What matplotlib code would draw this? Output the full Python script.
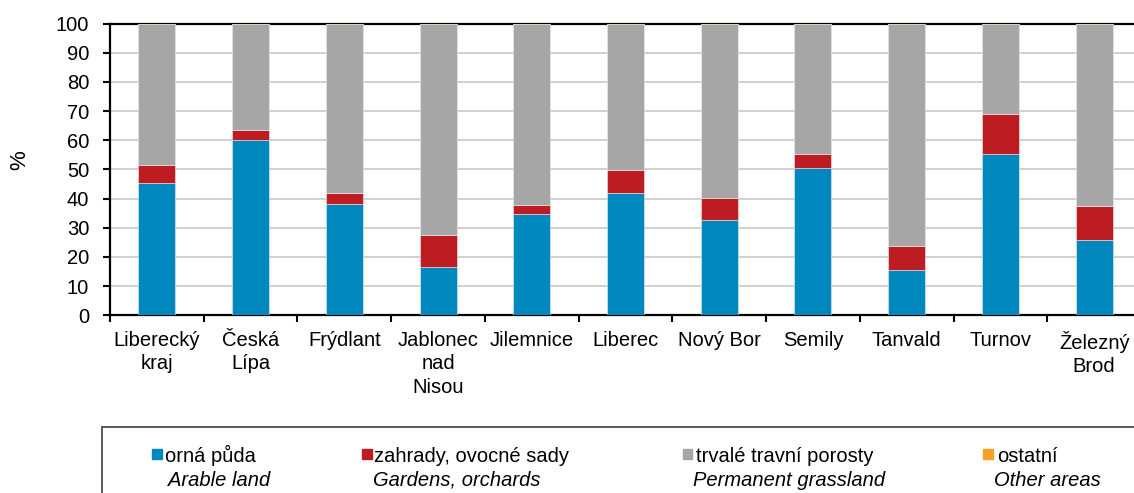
import matplotlib.pyplot as plt
from matplotlib.patches import Rectangle
import numpy as np

plt.rcParams['font.family'] = ['Liberation Sans', 'DejaVu Sans']
FS = 14.5

regions = ['Liberecký\nkraj', 'Česká\nLípa', 'Frýdlant', 'Jablonec\nnad\nNisou',
           'Jilemnice', 'Liberec', 'Nový Bor', 'Semily', 'Tanvald', 'Turnov',
           'Železný\nBrod']
arable = [45.4, 60.1, 38.1, 16.7, 34.6, 41.8, 32.6, 50.5, 15.4, 55.2, 25.7]
gardens = [6.2, 3.4, 3.9, 10.9, 3.2, 8.1, 7.7, 4.8, 8.5, 13.8, 11.8]
grassland = [48.2, 36.3, 57.9, 72.3, 62.1, 50.0, 59.6, 44.6, 76.0, 30.9, 62.4]
other = [0.2, 0.2, 0.1, 0.1, 0.1, 0.1, 0.1, 0.1, 0.1, 0.1, 0.1]

series = [arable, gardens, grassland, other]
colors = ['#0087BE', '#BE1C23', '#A6A6A6', '#F7A128']
names_cz = ['orná půda', 'zahrady, ovocné sady', 'trvalé travní porosty', 'ostatní']
names_en = ['Arable land', 'Gardens, orchards', 'Permanent grassland', 'Other areas']

W, H = 1134, 493
fig = plt.figure(figsize=(W / 100, H / 100), dpi=100)
ax = fig.add_axes([110 / W, 1 - 315.3 / H, 1031 / W, (315.3 - 23.5) / H])

x = np.arange(len(regions))
bottom = np.zeros(len(regions))
for vals, c in zip(series, colors):
    ax.bar(x, vals, 0.395, bottom=bottom, color=c, edgecolor='#e8eef2',
           linewidth=0.4, zorder=3)
    bottom += np.array(vals)

ax.set_xlim(-0.5, len(regions) - 0.5)
ax.set_ylim(0, 100)
ax.set_yticks(np.arange(0, 101, 10))
ax.yaxis.grid(True, color='#D0D0D0', linewidth=1.4, zorder=0)
ax.set_axisbelow(True)

ax.set_xticks(x)
ax.set_xticklabels(regions, fontsize=FS, linespacing=1.3)
ax.set_xticks(np.arange(-0.5, len(regions), 1), minor=True)
ax.tick_params(axis='x', which='major', length=0, pad=11)
ax.tick_params(axis='x', which='minor', length=5, width=1.5, direction='out')
ax.tick_params(axis='y', length=5, width=1.5, pad=10, labelsize=FS)

for s in ['left', 'bottom', 'top']:
    ax.spines[s].set_linewidth(1.6)
ax.spines['right'].set_visible(False)

fig.text(20 / W, 1 - 160 / H, '%', rotation=90, fontsize=16,
         ha='center', va='center')

# legend box and entries
fig.patches.append(Rectangle((102 / W, -0.1), 1.2, 0.1 + (493 - 427) / H,
                             transform=fig.transFigure, fill=False,
                             edgecolor='#404040', linewidth=1.2))
sq_x = [151.7, 361.7, 682.5, 983.3]
txt_x = [165, 374, 696, 997]
ital_x = [168, 373, 693, 994]
for i in range(4):
    fig.patches.append(Rectangle((sq_x[i] / W, 1 - 459 / H), 10 / W, 10 / H,
                                 transform=fig.transFigure, color=colors[i]))
    fig.text(txt_x[i] / W, 1 - 461.5 / H, names_cz[i], fontsize=FS,
             va='baseline')
    fig.text(ital_x[i] / W, 1 - 485.5 / H, names_en[i], fontsize=FS,
             style='italic', va='baseline')

fig.savefig('out.png', dpi=100)
